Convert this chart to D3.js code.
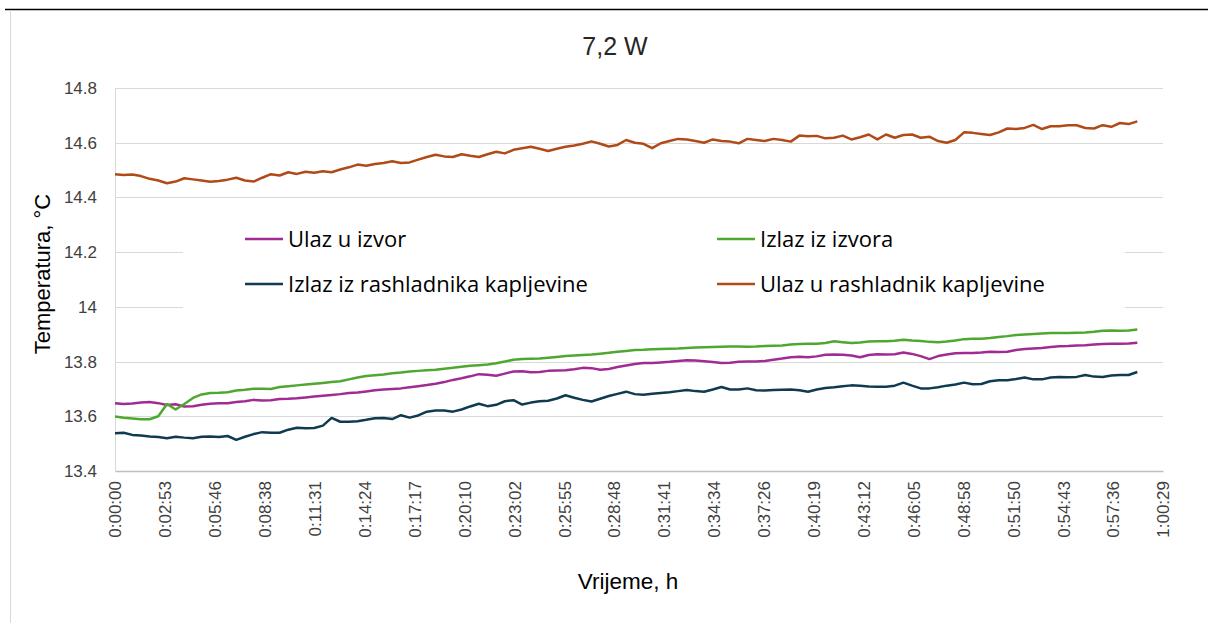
<!DOCTYPE html>
<html>
<head>
<meta charset="utf-8">
<script src="https://cdn.jsdelivr.net/npm/d3@7"></script>
<style>
body{margin:0;background:#fff}
svg{display:block}
text{font-family:"Liberation Sans",Arial,sans-serif}
</style>
</head>
<body>
<svg id="chart" width="1208" height="623"></svg>
<script>
// sample step of the logger, seconds
let stepSec=30

let tickLabels=["0:00:00","0:02:53","0:05:46","0:08:38","0:11:31","0:14:24","0:17:17","0:20:10","0:23:02","0:25:55","0:28:48",
"0:31:41","0:34:34","0:37:26","0:40:19","0:43:12","0:46:05","0:48:58","0:51:50","0:54:43","0:57:36","1:00:29"]
let yTicks=[13.4,13.6,13.8,14,14.2,14.4,14.6,14.8]

let seriesNames=["Ulaz u izvor","Izlaz iz izvora","Izlaz iz rashladnika kapljevine","Ulaz u rashladnik kapljevine"]
let seriesColors=["#a02b93","#4ea72e","#0f3b50","#b04a17"]

let ulazIzvor=[13.648,13.645,13.647,13.650,13.652,13.648,13.641,13.644,13.636,13.637,
13.642,13.646,13.648,13.648,13.652,13.655,13.660,13.658,13.659,13.663,
13.664,13.666,13.669,13.672,13.675,13.678,13.681,13.685,13.687,13.691,
13.695,13.698,13.700,13.702,13.706,13.710,13.714,13.719,13.725,13.733,
13.739,13.746,13.754,13.752,13.748,13.756,13.764,13.765,13.761,13.762,
13.766,13.767,13.768,13.772,13.777,13.776,13.770,13.773,13.780,13.786,
13.791,13.795,13.795,13.797,13.799,13.802,13.805,13.804,13.801,13.798,
13.795,13.796,13.799,13.800,13.800,13.802,13.807,13.811,13.816,13.818,
13.816,13.819,13.825,13.826,13.825,13.822,13.816,13.824,13.827,13.826,
13.827,13.833,13.828,13.820,13.809,13.820,13.826,13.830,13.831,13.831,
13.833,13.836,13.835,13.836,13.842,13.846,13.848,13.850,13.853,13.856,
13.857,13.859,13.860,13.862,13.864,13.865,13.865,13.866,13.869]

let izlazIzvor=[13.599,13.595,13.592,13.589,13.589,13.600,13.645,13.625,13.645,13.667,
13.680,13.685,13.686,13.688,13.694,13.697,13.701,13.701,13.700,13.707,
13.710,13.713,13.716,13.719,13.722,13.725,13.728,13.735,13.742,13.747,
13.750,13.753,13.757,13.760,13.764,13.766,13.768,13.770,13.774,13.777,
13.781,13.785,13.787,13.789,13.794,13.800,13.807,13.809,13.810,13.811,
13.814,13.817,13.820,13.822,13.824,13.826,13.829,13.832,13.836,13.839,
13.842,13.843,13.845,13.846,13.847,13.848,13.850,13.851,13.852,13.853,
13.854,13.855,13.855,13.854,13.855,13.857,13.858,13.859,13.862,13.864,
13.865,13.865,13.868,13.874,13.871,13.868,13.870,13.873,13.874,13.874,
13.876,13.880,13.877,13.875,13.872,13.871,13.873,13.877,13.882,13.883,
13.883,13.886,13.890,13.893,13.897,13.899,13.901,13.903,13.904,13.904,
13.904,13.905,13.906,13.909,13.913,13.914,13.913,13.914,13.917]

let izlazRashladnik=[13.538,13.540,13.532,13.530,13.526,13.524,13.520,13.525,13.522,13.520,
13.525,13.526,13.524,13.528,13.514,13.525,13.535,13.542,13.540,13.540,
13.551,13.558,13.556,13.557,13.566,13.594,13.580,13.580,13.582,13.587,
13.593,13.594,13.590,13.604,13.595,13.603,13.617,13.621,13.621,13.617,
13.625,13.636,13.646,13.637,13.642,13.655,13.659,13.643,13.650,13.655,
13.657,13.665,13.677,13.668,13.660,13.654,13.664,13.674,13.682,13.690,
13.681,13.679,13.682,13.685,13.688,13.692,13.696,13.692,13.690,13.698,
13.707,13.698,13.698,13.702,13.695,13.694,13.696,13.697,13.698,13.695,
13.690,13.698,13.703,13.706,13.710,13.713,13.712,13.709,13.708,13.708,
13.712,13.723,13.712,13.702,13.702,13.706,13.712,13.716,13.723,13.717,
13.718,13.728,13.732,13.732,13.736,13.742,13.735,13.735,13.742,13.744,
13.743,13.744,13.751,13.745,13.744,13.749,13.751,13.751,13.762]

let ulazRashladnik=[14.485,14.482,14.484,14.478,14.468,14.462,14.452,14.458,14.470,14.466,
14.462,14.457,14.460,14.465,14.472,14.462,14.458,14.472,14.485,14.480,
14.492,14.486,14.494,14.490,14.496,14.492,14.502,14.510,14.520,14.516,
14.522,14.526,14.532,14.526,14.528,14.538,14.548,14.556,14.550,14.548,
14.558,14.552,14.548,14.558,14.567,14.561,14.574,14.580,14.585,14.578,
14.570,14.578,14.585,14.590,14.596,14.605,14.596,14.586,14.592,14.610,
14.600,14.596,14.580,14.598,14.606,14.614,14.612,14.606,14.600,14.612,
14.606,14.604,14.598,14.614,14.610,14.606,14.614,14.610,14.604,14.626,
14.624,14.625,14.616,14.618,14.626,14.612,14.620,14.630,14.612,14.630,
14.618,14.628,14.630,14.618,14.622,14.606,14.600,14.610,14.638,14.636,
14.632,14.628,14.638,14.652,14.650,14.654,14.665,14.650,14.660,14.660,
14.664,14.664,14.654,14.652,14.664,14.658,14.672,14.668,14.678]

let seriesValues=[ulazIzvor,izlazIzvor,izlazRashladnik,ulazRashladnik]

function toSec(s){
let p=s.split(":").map(Number)
return p[0]*3600+p[1]*60+p[2]
}

let svg=d3.select("#chart")
let plotL=115,plotR=1163,plotT=88,plotB=471

let x=d3.scaleLinear().domain([0,toSec(tickLabels[tickLabels.length-1])]).range([plotL,plotR])
let y=d3.scaleLinear().domain([13.4,14.8]).range([plotB,plotT])

// page header rule and chart frame
svg.append("line").attr("x1",5).attr("x2",1208).attr("y1",9.5).attr("y2",9.5)
.attr("stroke","#000").attr("stroke-width",1.5)
svg.append("line").attr("x1",10.5).attr("x2",10.5).attr("y1",10).attr("y2",623)
.attr("stroke","#d9d9d9").attr("stroke-width",1)

// gridlines
svg.append("g").selectAll("line").data(yTicks.slice(1)).enter().append("line")
.attr("x1",plotL).attr("x2",plotR)
.attr("y1",d=>Math.round(y(d))+0.5).attr("y2",d=>Math.round(y(d))+0.5)
.attr("stroke","#d9d9d9").attr("stroke-width",1)

svg.append("line").attr("x1",plotL+0.5).attr("x2",plotL+0.5).attr("y1",plotT).attr("y2",plotB)
.attr("stroke","#d9d9d9")

let yAxis=svg.append("g").attr("transform","translate("+(plotL-18)+",0)")
.call(d3.axisLeft(y).tickValues(yTicks).tickSize(0).tickFormat(d=>String(+d.toFixed(1))))
yAxis.select(".domain").remove()
yAxis.selectAll("text").attr("font-size",17).attr("fill","#404040").attr("x",0)

let xAxis=svg.append("g").attr("transform","translate(0,"+plotB+")")
.call(d3.axisBottom(x).tickValues(tickLabels.map(toSec)).tickSize(0).tickFormat((d,i)=>tickLabels[i]))
xAxis.select(".domain").attr("stroke","#bfbfbf").attr("stroke-width",1.5)
xAxis.selectAll("text")
.attr("font-size",17).attr("fill","#404040")
.attr("transform","rotate(-90)")
.attr("text-anchor","end")
.attr("x",-10).attr("y",0).attr("dy","0.35em")

// series lines
let line=d3.line().x((d,i)=>x(i*stepSec)).y(d=>y(d))
seriesValues.forEach((vals,k)=>{
svg.append("path").datum(vals)
.attr("d",line)
.attr("fill","none")
.attr("stroke",seriesColors[k])
.attr("stroke-width",2.5)
.attr("stroke-linejoin","round")
})

// legend sits over the plot with a white box
svg.append("rect").attr("x",183).attr("y",208).attr("width",942).attr("height",104).attr("fill","#fff")
let legendPos=[[245,239],[717,239],[245,284],[717,284]]
seriesNames.forEach((name,k)=>{
let [lx,ly]=legendPos[k]
svg.append("line").attr("x1",lx).attr("x2",lx+38).attr("y1",ly).attr("y2",ly)
.attr("stroke",seriesColors[k]).attr("stroke-width",2.5)
svg.append("text").attr("x",lx+43).attr("y",ly+8)
.style("font-family","'Open Sans', sans-serif")
.attr("font-size",22).attr("fill","#000").text(name)
})

// titles
svg.append("text").attr("x",615).attr("y",55).attr("text-anchor","middle")
.attr("font-size",25).attr("fill","#262626").text("7,2 W")
svg.append("text").attr("transform","translate(50,274) rotate(-90)")
.attr("text-anchor","middle").attr("font-size",22).attr("fill","#000").text("Temperatura, °C")
svg.append("text").attr("x",628).attr("y",589).attr("text-anchor","middle")
.attr("font-size",22.5).attr("fill","#000").text("Vrijeme, h")
</script>
</body>
</html>
